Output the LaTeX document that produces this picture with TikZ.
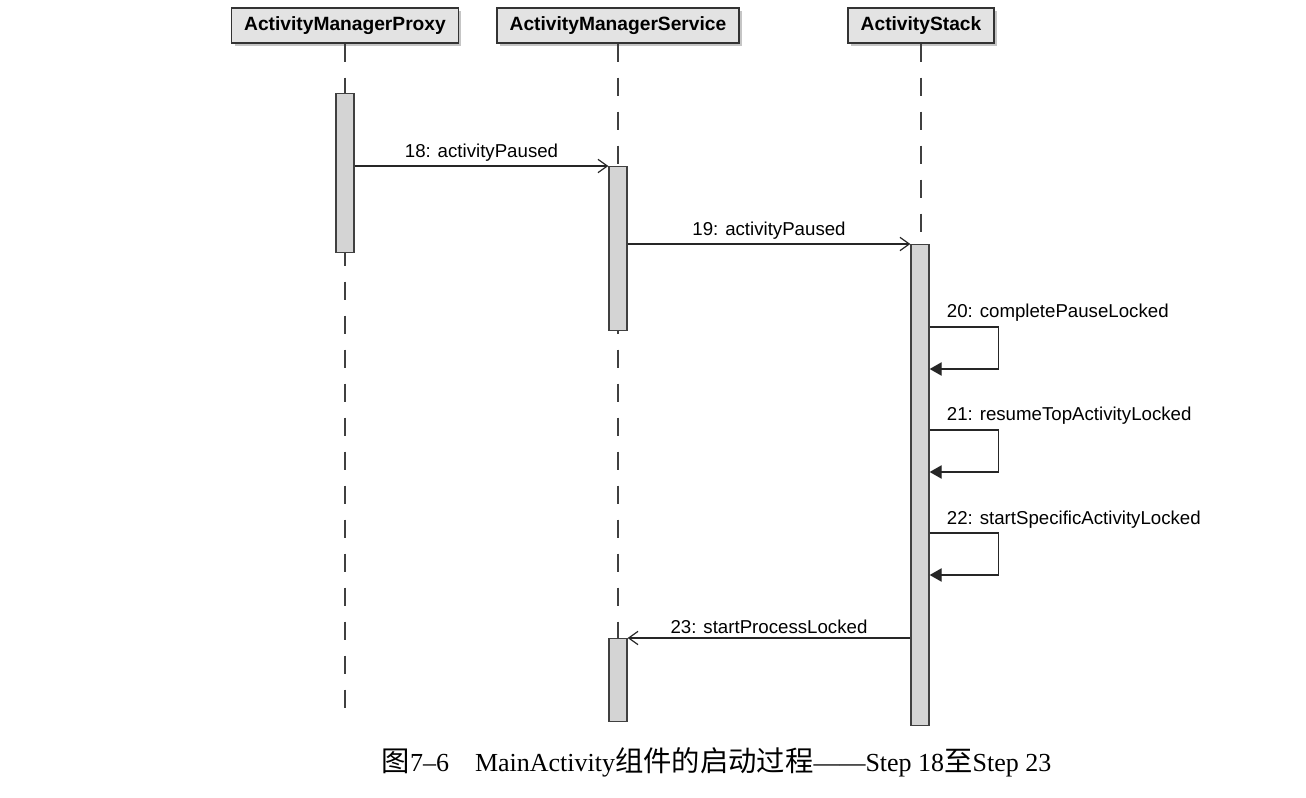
\documentclass[tikz,border=0pt]{standalone}
\usepackage{fontspec}
\setmainfont{Liberation Serif}
\setsansfont{Liberation Sans}
\newfontfamily\cjk[Scale=1.09]{Noto Sans CJK SC}
\usetikzlibrary{arrows.meta,shadows}
\newcommand{\hdr}{\sffamily\bfseries\fontsize{14.4}{17}\selectfont}
\newcommand{\msg}{\sffamily\fontsize{14}{16}\selectfont}

\begin{document}
\begin{tikzpicture}[x=0.75pt,y=-0.75pt,font=\msg,
  obj/.style={draw=black!80,fill=black!11,line width=1.1pt,minimum height=26.25pt,
    inner xsep=9.4pt,font=\hdr,
    drop shadow={shadow xshift=2.2pt,shadow yshift=-2.2pt,fill=black!45}},
  life/.style={draw=black!75,line width=0.9pt,dash pattern=on 13.5pt off 12pt},
  act/.style={draw=black!75,fill=black!17,line width=1pt,minimum width=13.5pt,
    inner sep=0pt,anchor=north},
  call/.style={draw=black!85,line width=0.9pt,-{Straight Barb[length=7pt,width=10pt]}},
  self/.style={draw=black!85,line width=0.9pt,-{Triangle[length=9pt,width=10pt]}},
  lbl/.style={inner sep=3pt}]
\useasboundingbox (0,0) rectangle (1306,798);

% objects
\node[obj] (amp) at (345,25.5) {ActivityManagerProxy};
\node[obj] (ams) at (618,25.5) {ActivityManagerService};
\node[obj] (as) at (921,25.5) {ActivityStack};

% lifelines
\coordinate (end) at (0,712);
\draw[life] (amp.south) -- (amp.south |- end);
\draw[life] (ams.south) -- ([yshift=-6pt]ams.south |- end);
\draw[life] (as.south) -- ([yshift=-9pt]as.south |- end);

% activations
\node[act,minimum height=119.25pt] (b1) at (amp |- 0,93) {};
\node[act,minimum height=123pt] (b2) at (ams |- 0,166) {};
\node[act,minimum height=360.75pt] (b3) at (920,244) {};
\node[act,minimum height=62.25pt] (b4) at (ams |- 0,638) {};

% messages
\draw[call] (b1.east |- b2.north) -- node[lbl,above] {18: activityPaused} (b2.north west);
\draw[call] (b2.east |- b3.north) -- node[lbl,above] {19: activityPaused} (b3.north west);
\draw[call] (b3.west |- b4.north) -- node[lbl,above] {23: startProcessLocked} (b4.north east);

% self calls
\foreach \n/\y/\t in {20/327/completePauseLocked,21/430/resumeTopActivityLocked,
    22/533/startSpecificActivityLocked}{
  \coordinate (s\n) at (b3.east |- 0,\y);
  \coordinate (e\n) at (b3.east |- 0,\y+42);
  \draw[self] (s\n) -- ++(69,0) |- (e\n);
  \node[anchor=base west,inner sep=0pt] (t\n) at ([shift={(17,-9)}]s\n) {\n: \t};
}

% caption
\node[font=\rmfamily\fontsize{19.5}{22}\selectfont,anchor=base] (cap) at (716.5,771)
  {{\cjk 图}7--6\quad MainActivity{\cjk 组件的启动过程}——Step 18{\cjk 至}Step 23};

\end{tikzpicture}
\end{document}
